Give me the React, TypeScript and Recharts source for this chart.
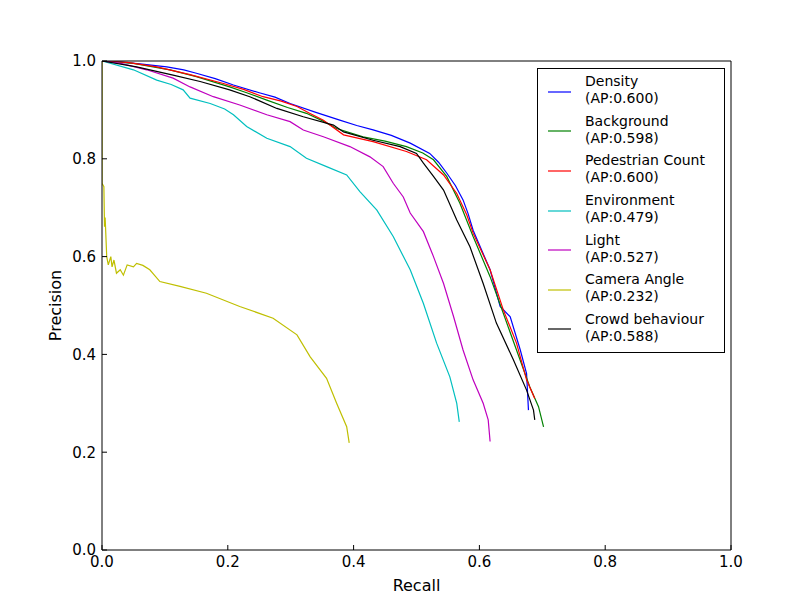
import React from 'react';
import { LineChart, Line, XAxis, YAxis, Legend } from 'recharts';

type Pt = { r: number; p: number };
const mk = (a: number[][]): Pt[] => a.map(([r, p]) => ({ r, p }));

const xTicks = [0, 0.2, 0.4, 0.6, 0.8, 1.0];
const yTicks = [0, 0.2, 0.4, 0.6, 0.8, 1.0];

const density = mk([
  [0, 1], [0.03, 0.998], [0.06, 0.994], [0.103, 0.988], [0.13, 0.982], [0.15, 0.975], [0.18, 0.964], [0.209, 0.951],
  [0.25, 0.935], [0.275, 0.926], [0.299, 0.913], [0.34, 0.895], [0.378, 0.879], [0.405, 0.868], [0.431, 0.859],
  [0.46, 0.848], [0.49, 0.832], [0.521, 0.811], [0.535, 0.793], [0.548, 0.771],
  [0.562, 0.745], [0.574, 0.716], [0.582, 0.688], [0.59, 0.654], [0.604, 0.612],
  [0.617, 0.573], [0.633, 0.498], [0.649, 0.477], [0.665, 0.409], [0.675, 0.361],
  [0.678, 0.286],
]);

const background = mk([
  [0, 1], [0.05, 0.995], [0.108, 0.982], [0.15, 0.968], [0.203, 0.947], [0.23, 0.935], [0.262, 0.92],
  [0.295, 0.905], [0.325, 0.893], [0.35, 0.878], [0.373, 0.862], [0.415, 0.845], [0.45, 0.836], [0.484, 0.825],
  [0.51, 0.812], [0.527, 0.798], [0.548, 0.764], [0.569, 0.709], [0.59, 0.641], [0.617, 0.559],
  [0.638, 0.484], [0.659, 0.409], [0.68, 0.334], [0.694, 0.293], [0.702, 0.252],
]);

const pedestrian = mk([
  [0, 1], [0.04, 0.997], [0.087, 0.988], [0.14, 0.972], [0.193, 0.954], [0.225, 0.942], [0.256, 0.927],
  [0.285, 0.918], [0.31, 0.907], [0.33, 0.893], [0.352, 0.879], [0.384, 0.849], [0.431, 0.835], [0.484, 0.815],
  [0.516, 0.798], [0.543, 0.767], [0.564, 0.729], [0.58, 0.685], [0.59, 0.648],
  [0.617, 0.573], [0.638, 0.491], [0.659, 0.423], [0.675, 0.348], [0.688, 0.31],
]);

const environment = mk([
  [0, 1], [0.05, 0.982], [0.087, 0.961], [0.11, 0.952], [0.129, 0.941], [0.14, 0.924], [0.172, 0.913],
  [0.195, 0.902], [0.209, 0.89], [0.23, 0.866], [0.262, 0.842], [0.299, 0.825], [0.325, 0.801],
  [0.357, 0.784], [0.389, 0.767], [0.41, 0.733], [0.437, 0.695], [0.463, 0.641],
  [0.49, 0.573], [0.511, 0.504], [0.532, 0.423], [0.553, 0.354], [0.564, 0.3],
  [0.568, 0.262],
]);

const light = mk([
  [0, 1], [0.03, 0.995], [0.071, 0.982], [0.113, 0.965], [0.14, 0.947], [0.177, 0.927],
  [0.219, 0.91], [0.262, 0.89], [0.299, 0.876], [0.32, 0.859], [0.352, 0.845],
  [0.394, 0.825], [0.426, 0.804], [0.447, 0.784], [0.463, 0.75], [0.479, 0.722],
  [0.49, 0.689], [0.511, 0.651], [0.527, 0.6], [0.543, 0.545], [0.559, 0.477],
  [0.574, 0.409], [0.59, 0.348], [0.606, 0.3], [0.614, 0.266], [0.617, 0.222],
]);

const camera = mk([
  [0, 1], [0, 0.75], [0.003, 0.743], [0.004, 0.661], [0.005, 0.68], [0.0075, 0.6],
  [0.01, 0.583], [0.014, 0.6], [0.016, 0.579], [0.019, 0.593], [0.023, 0.566],
  [0.029, 0.573], [0.034, 0.562], [0.04, 0.583], [0.05, 0.579], [0.055, 0.586],
  [0.065, 0.582], [0.076, 0.573], [0.092, 0.549], [0.124, 0.539], [0.166, 0.525],
  [0.219, 0.498], [0.272, 0.474], [0.31, 0.44], [0.331, 0.395], [0.357, 0.351],
  [0.373, 0.3], [0.389, 0.252], [0.393, 0.219],
]);

const crowd = mk([
  [0, 1], [0.055, 0.988], [0.113, 0.971], [0.156, 0.958], [0.203, 0.941], [0.235, 0.927],
  [0.278, 0.903], [0.32, 0.886], [0.368, 0.869], [0.384, 0.855], [0.431, 0.838],
  [0.474, 0.825], [0.5, 0.811], [0.511, 0.791], [0.527, 0.764], [0.543, 0.736],
  [0.564, 0.675], [0.585, 0.62], [0.606, 0.545], [0.627, 0.464], [0.654, 0.389],
  [0.675, 0.327], [0.686, 0.286], [0.688, 0.266],
]);

const seriesNames = ['Density', 'Background', 'Pedestrian Count', 'Environment', 'Light', 'Camera Angle', 'Crowd behaviour'];
const apValues = ['0.600', '0.598', '0.600', '0.479', '0.527', '0.232', '0.588'];
const colors = ['#0000ff', '#008000', '#ff0000', '#00bfbf', '#bf00bf', '#bfbf00', '#000000'];
const seriesData = [density, background, pedestrian, environment, light, camera, crowd];

const FONT = '"DejaVu Sans", sans-serif';

const LegendBox = () => (
  <div
    style={{
      boxSizing: 'border-box',
      width: 188,
      border: '1px solid #000',
      background: '#fff',
      padding: '3px 0 3px 0',
      fontFamily: FONT,
      fontSize: 14,
      color: '#000',
    }}
  >
    {seriesNames.map((n, i) => (
      <div key={n} style={{ display: 'flex', alignItems: 'center', height: 39.6 }}>
        <svg width={33} height={4} style={{ display: 'block' }}>
          <line x1={10} x2={33} y1={2} y2={2} stroke={colors[i]} strokeWidth={1.2} />
        </svg>
        <div style={{ marginLeft: 14, lineHeight: '17px', whiteSpace: 'nowrap', position: 'relative', top: -1.5 }}>
          <div>{n}</div>
          <div>(AP:{apValues[i]})</div>
        </div>
      </div>
    ))}
  </div>
);

const tickStyle = { fill: '#000', fontSize: 15, fontFamily: FONT };

export default function App() {
  return (
    <div style={{ width: 804, height: 604, background: '#fff' }}>
      <LineChart width={804} height={604} margin={{ top: 52, right: 80, bottom: 12, left: 0 }}>
        <XAxis
          dataKey="r"
          type="number"
          domain={[0, 1]}
          ticks={xTicks}
          interval={0}
          tickFormatter={(v: number) => v.toFixed(1)}
          tick={tickStyle}
          tickSize={-5}
          tickMargin={11}
          stroke="#000"
          height={50}
          allowDataOverflow
          label={{ value: 'Recall', position: 'insideBottom', offset: 9, fill: '#000', fontSize: 16, fontFamily: FONT }}
        />
        <XAxis
          xAxisId="top"
          dataKey="r"
          orientation="top"
          type="number"
          domain={[0, 1]}
          ticks={xTicks}
          interval={0}
          tick={false}
          tickSize={-5}
          stroke="#000"
          height={1}
          allowDataOverflow
        />
        <YAxis
          type="number"
          domain={[0, 1]}
          ticks={yTicks}
          interval={0}
          tickFormatter={(v: number) => v.toFixed(1)}
          tick={tickStyle}
          tickSize={-5}
          tickMargin={11}
          stroke="#000"
          width={94}
          allowDataOverflow
          label={{ value: 'Precision', angle: -90, position: 'center', fill: '#000', fontSize: 16, fontFamily: FONT }}
        />
        <YAxis
          yAxisId="right"
          orientation="right"
          type="number"
          domain={[0, 1]}
          ticks={yTicks}
          interval={0}
          tick={false}
          tickSize={-5}
          stroke="#000"
          width={1}
          allowDataOverflow
        />
        {seriesData.map((d, i) => (
          <Line
            key={seriesNames[i]}
            data={d}
            dataKey="p"
            name={seriesNames[i]}
            type="linear"
            stroke={colors[i]}
            strokeWidth={1.2}
            dot={false}
            activeDot={false}
            isAnimationActive={false}
          />
        ))}
        <Line
          data={crowd}
          dataKey="p"
          xAxisId="top"
          yAxisId="right"
          stroke="none"
          strokeWidth={0}
          dot={false}
          activeDot={false}
          legendType="none"
          isAnimationActive={false}
        />
        <Legend
          layout="vertical"
          align="center"
          verticalAlign="middle"
          content={() => <LegendBox />}
          wrapperStyle={{ left: 529, top: 60, width: 188, height: 285 }}
        />
      </LineChart>
    </div>
  );
}
